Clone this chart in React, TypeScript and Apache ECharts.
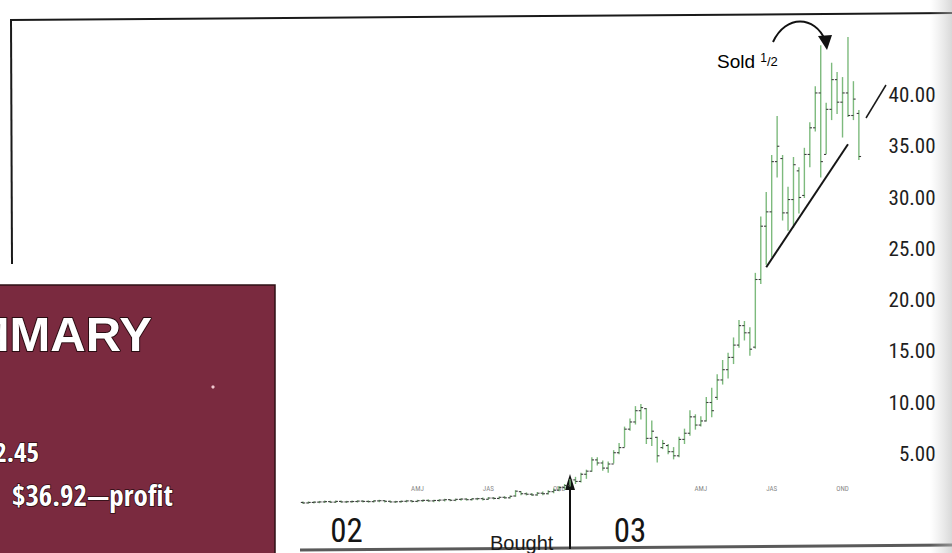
import React, { useEffect, useRef } from "react";
import * as echarts from "echarts";

// weekly categories, first week starting 2001-11-05
const START_MS = Date.UTC(2001, 10, 5);
const WEEK_COUNT = 103;
const weeks: string[] = [];
for (let i = 0; i < WEEK_COUNT; i++) {
  weeks.push(new Date(START_MS + i * 7 * 86400000).toISOString().slice(0, 10));
}

const opens = [
  0.25, 0.2, 0.25, 0.28, 0.3, 0.33, 0.28, 0.35, 0.3, 0.32, 0.34, 0.38, 0.35, 0.33, 0.4, 0.42, 0.36, 0.3, 0.32, 0.36,
  0.4, 0.35, 0.42, 0.45, 0.4, 0.44, 0.48, 0.52, 0.46, 0.55, 0.58, 0.52, 0.6, 0.62, 0.56, 0.68, 0.64, 0.75, 0.7, 0.88,
  1.3, 1.1, 1.05, 0.98, 1.15, 1.1, 1.3, 1.45, 1.7, 1.9, 2.45, 2.3, 3.0, 3.3, 4.4, 4.1, 3.6, 4.0, 5.1, 5.6,
  7.4, 8.1, 9.2, 9.4, 6.5, 6.6, 5.6, 5.8, 5.2, 4.8, 6.4, 7.0, 8.6, 7.8, 8.2, 10.0, 10.5, 12.2, 13.2, 14.4,
  15.6, 17.5, 16.8, 15.4, 22.0, 27.2, 28.6, 33.5, 33.8, 28.5, 29.8, 32.6, 30.2, 34.2, 36.8, 40.2, 34.2, 38.6, 41.5, 39.3,
  40.2, 38.0, 38.2,
];
const highs = [
  0.3, 0.3, 0.32, 0.35, 0.38, 0.36, 0.4, 0.38, 0.36, 0.38, 0.42, 0.42, 0.4, 0.43, 0.46, 0.44, 0.4, 0.36, 0.4, 0.45,
  0.42, 0.46, 0.48, 0.5, 0.46, 0.52, 0.56, 0.54, 0.58, 0.62, 0.62, 0.64, 0.66, 0.68, 0.72, 0.74, 0.78, 0.82, 0.88, 1.4,
  1.3, 1.18, 1.12, 1.22, 1.28, 1.38, 1.55, 1.8, 2.0, 2.5, 2.7, 3.1, 3.4, 4.6, 4.6, 4.3, 4.2, 5.3, 6.0, 7.6,
  8.4, 9.6, 9.8, 9.4, 8.2, 6.6, 6.3, 5.9, 5.6, 6.6, 7.4, 9.2, 8.8, 8.6, 10.5, 11.4, 12.7, 14.1, 14.8, 16.3,
  18.0, 17.9, 17.3, 22.6, 28.1, 30.5, 34.1, 37.9, 34.1, 31.0, 33.9, 32.9, 34.8, 37.3, 40.8, 44.8, 39.2, 43.1, 42.2, 41.7,
  45.6, 41.3, 38.5,
];
const lows = [
  0.15, 0.18, 0.2, 0.22, 0.25, 0.24, 0.25, 0.26, 0.24, 0.27, 0.28, 0.3, 0.28, 0.3, 0.32, 0.3, 0.26, 0.25, 0.27, 0.3,
  0.3, 0.32, 0.35, 0.36, 0.32, 0.36, 0.4, 0.42, 0.42, 0.46, 0.48, 0.5, 0.52, 0.5, 0.55, 0.58, 0.6, 0.65, 0.68, 0.85,
  1.0, 0.98, 0.92, 0.95, 1.0, 1.08, 1.2, 1.4, 1.55, 1.85, 2.1, 2.25, 2.6, 3.3, 3.9, 3.4, 3.2, 4.1, 5.0, 5.7,
  7.3, 7.9, 8.4, 6.0, 5.8, 4.2, 5.5, 5.0, 4.5, 4.7, 6.0, 6.8, 7.4, 7.7, 8.2, 8.6, 10.3, 11.8, 12.4, 13.8,
  15.4, 16.1, 14.6, 15.3, 21.6, 23.5, 24.2, 32.0, 27.8, 26.8, 27.1, 28.5, 30.0, 33.0, 36.5, 32.0, 34.3, 37.6, 38.2, 35.9,
  37.9, 37.6, 33.7,
];
const closes = [
  0.2, 0.25, 0.28, 0.3, 0.33, 0.28, 0.35, 0.3, 0.32, 0.34, 0.38, 0.35, 0.33, 0.4, 0.42, 0.36, 0.3, 0.32, 0.36, 0.4,
  0.35, 0.42, 0.45, 0.4, 0.44, 0.48, 0.52, 0.46, 0.55, 0.58, 0.52, 0.6, 0.62, 0.56, 0.68, 0.64, 0.75, 0.7, 0.85, 1.35,
  1.1, 1.05, 0.98, 1.15, 1.1, 1.3, 1.45, 1.7, 1.9, 2.45, 2.3, 3.0, 3.3, 4.4, 4.1, 3.6, 4.0, 5.1, 5.6, 7.4,
  8.1, 9.2, 9.5, 6.5, 7.2, 4.8, 6.0, 5.2, 4.8, 6.4, 7.0, 8.6, 7.8, 8.2, 10.0, 9.2, 12.2, 13.2, 14.4, 15.6,
  17.5, 16.8, 15.2, 22.0, 27.2, 28.6, 33.5, 35.0, 28.5, 29.8, 33.2, 30.0, 34.2, 36.8, 40.2, 33.5, 38.6, 41.5, 39.3, 40.2,
  38.0, 39.6, 34.0,
];

// trendline under the late advance: [week index, price]
const trendStart = [85, 23.2];
const trendEnd = [100, 35.2];

const quarterIdx = [21, 34, 47, 73, 86, 99];
const quarterLabels = ["AMJ", "JAS", "OND", "AMJ", "JAS", "OND"];
const yearIdx = [8, 60];
const yearLabels = ["02", "03"];
const priceTicksShown = [5, 10, 15, 20, 25, 30, 35, 40];

const NARROW = '"Roboto Condensed", "DejaVu Sans Condensed", sans-serif';
const BOXFONT = '"Open Sans Condensed", "Roboto Condensed", sans-serif';
const SANS = '"Liberation Sans", Arial, Helvetica, sans-serif';

export default function App() {
  const ref = useRef<HTMLDivElement>(null);
  useEffect(() => {
    if (!ref.current) return;
    const chart = echarts.init(ref.current, undefined, { renderer: "svg" });
    const ohlc = weeks.map((_, i) => [i, opens[i], highs[i], lows[i], closes[i]]);

    const option: any = {
      animation: false,
      backgroundColor: "#ffffff",
      grid: { left: 300.3, right: 90.4, top: 23.25, bottom: 48 },
      xAxis: [
        {
          type: "category",
          data: weeks,
          position: "bottom",
          boundaryGap: true,
          axisLine: { show: false },
          axisTick: { show: false },
          splitLine: { show: false },
          axisLabel: {
            inside: true,
            margin: 13,
            fontSize: 7,
            color: "#8a8a8a",
            fontFamily: NARROW,
            interval: (idx: number) => quarterIdx.includes(idx),
            formatter: (_v: string, idx: number) => {
              const k = quarterIdx.indexOf(idx);
              return k >= 0 ? quarterLabels[k] : "";
            },
          },
        },
        {
          type: "category",
          data: weeks,
          position: "bottom",
          boundaryGap: true,
          axisLine: { show: false },
          axisTick: { show: false },
          splitLine: { show: false },
          axisLabel: {
            margin: 9,
            fontSize: 33,
            color: "#151515",
            fontFamily: NARROW,
            interval: (idx: number) => yearIdx.includes(idx),
            formatter: (_v: string, idx: number) => {
              const k = yearIdx.indexOf(idx);
              return k >= 0 ? yearLabels[k] : "";
            },
          },
        },
      ],
      yAxis: {
        type: "value",
        position: "right",
        min: 0,
        max: 47,
        interval: 5,
        axisLine: { show: false },
        axisTick: { show: false },
        splitLine: { show: false },
        axisLabel: {
          align: "right",
          margin: 74,
          fontSize: 21,
          color: "#1e1e1e",
          fontFamily: NARROW,
          formatter: (v: number) => (priceTicksShown.includes(v) ? v.toFixed(2) : ""),
        },
      },
      series: [
        {
          type: "custom",
          xAxisIndex: 0,
          yAxisIndex: 0,
          data: ohlc,
          encode: { x: 0, y: [1, 2, 3, 4] },
          renderItem: (_params: any, api: any) => {
            const idx = api.value(0);
            const o = api.coord([idx, api.value(1)]);
            const h = api.coord([idx, api.value(2)]);
            const l = api.coord([idx, api.value(3)]);
            const c = api.coord([idx, api.value(4)]);
            const x = o[0];
            return {
              type: "group",
              children: [
                {
                  type: "line",
                  shape: { x1: x, y1: h[1] - 0.5, x2: x, y2: l[1] + 0.5 },
                  style: { stroke: "#7dba7d", lineWidth: 1.4 },
                },
                {
                  type: "line",
                  shape: { x1: x - 2.2, y1: o[1], x2: x, y2: o[1] },
                  style: { stroke: "#3c3c3c", lineWidth: 1.1 },
                },
                {
                  type: "line",
                  shape: { x1: x, y1: c[1], x2: x + 2.2, y2: c[1] },
                  style: { stroke: "#3c3c3c", lineWidth: 1.1 },
                },
              ],
            };
          },
        },
        {
          type: "line",
          xAxisIndex: 0,
          yAxisIndex: 0,
          data: [trendStart, trendEnd],
          symbol: "none",
          lineStyle: { color: "#161616", width: 2 },
          z: 5,
        },
      ],
      graphic: [
        // page frame
        { type: "line", shape: { x1: 10, y1: 20, x2: 952, y2: 13 }, style: { stroke: "#1a1a1a", lineWidth: 2 } },
        { type: "line", shape: { x1: 11, y1: 19, x2: 12, y2: 264 }, style: { stroke: "#1a1a1a", lineWidth: 2 } },
        { type: "line", shape: { x1: 300, y1: 550, x2: 952, y2: 545 }, style: { stroke: "#5a5a5a", lineWidth: 3 } },
        {
          type: "rect",
          shape: { x: 930, y: 0, width: 22, height: 553 },
          style: {
            fill: new echarts.graphic.LinearGradient(0, 0, 1, 0, [
              { offset: 0, color: "rgba(200,200,200,0)" },
              { offset: 1, color: "rgba(185,185,185,0.55)" },
            ]),
          },
        },
        // summary box
        {
          type: "rect",
          shape: { x: -2, y: 285, width: 277, height: 272 },
          style: { fill: "#7a2a3f", stroke: "#2e1016", lineWidth: 1.5 },
        },
        {
          type: "text",
          style: {
            text: "SUMMARY",
            x: 152,
            y: 334,
            align: "right",
            textAlign: "right",
            verticalAlign: "middle",
            textVerticalAlign: "middle",
            fill: "#ffffff",
            stroke: "#2a0c12",
            lineWidth: 2,
            font: `bold 49px ${SANS}`,
          },
        },
        {
          type: "text",
          style: {
            text: "$2.45",
            x: 39,
            y: 451,
            align: "right",
            textAlign: "right",
            verticalAlign: "middle",
            textVerticalAlign: "middle",
            fill: "#ffffff",
            stroke: "#2a0c12",
            lineWidth: 1.5,
            font: `bold 27px ${BOXFONT}`,
          },
        },
        {
          type: "text",
          style: {
            text: "$36.92—profit",
            x: 12,
            y: 494,
            align: "left",
            textAlign: "left",
            verticalAlign: "middle",
            textVerticalAlign: "middle",
            fill: "#ffffff",
            stroke: "#2a0c12",
            lineWidth: 1.5,
            font: `bold 29px ${BOXFONT}`,
          },
        },
        { type: "circle", shape: { cx: 213, cy: 387, r: 1.6 }, style: { fill: "#f0c8d0" } },
        // Sold 1/2 annotation
        {
          type: "text",
          style: {
            text: "{a|Sold }{s|1}{b|/2}",
            x: 717,
            y: 61,
            verticalAlign: "middle",
            textVerticalAlign: "middle",
            rich: {
              a: { fontSize: 19, fontFamily: SANS, color: "#1a1a1a" },
              s: { fontSize: 12, fontFamily: SANS, color: "#1a1a1a", verticalAlign: "top", padding: [0, 0, 6, 0] },
              b: { fontSize: 13, fontFamily: SANS, color: "#1a1a1a" },
            },
          },
        },
        {
          type: "bezierCurve",
          shape: { x1: 773, y1: 42, cpx1: 786, cpy1: 14, cpx2: 815, cpy2: 16, x2: 825, y2: 40 },
          style: { stroke: "#111", lineWidth: 2, fill: null },
        },
        { type: "polygon", shape: { points: [[818, 36], [832, 35], [827, 50]] }, style: { fill: "#111" } },
        // short line near price axis
        { type: "line", shape: { x1: 866, y1: 118, x2: 886, y2: 85 }, style: { stroke: "#1a1a1a", lineWidth: 1.5 } },
        // Bought arrow
        { type: "line", shape: { x1: 570, y1: 549, x2: 570, y2: 484 }, style: { stroke: "#111", lineWidth: 2 } },
        { type: "polygon", shape: { points: [[565, 490], [575, 490], [570, 474]] }, style: { fill: "#111" } },
        {
          type: "text",
          style: {
            text: "Bought",
            x: 490,
            y: 543,
            align: "left",
            textAlign: "left",
            verticalAlign: "middle",
            textVerticalAlign: "middle",
            fill: "#1a1a1a",
            font: `20px ${SANS}`,
          },
        },
      ],
    };
    chart.setOption(option);
    return () => chart.dispose();
  }, []);
  return (
    <div
      ref={ref}
      style={{ position: "fixed", left: 0, top: 0, width: 952, height: 553, background: "#fff" }}
    />
  );
}
